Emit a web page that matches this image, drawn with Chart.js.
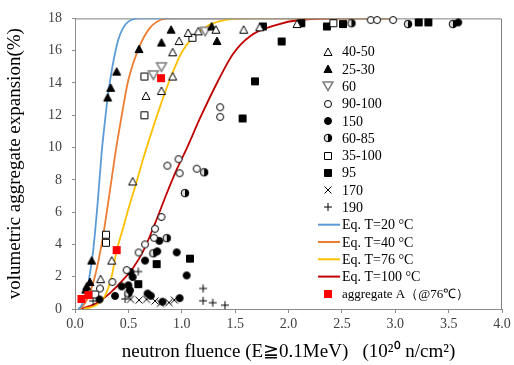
<!DOCTYPE html>
<html lang="en">
<head>
<meta charset="UTF-8">
<title>Volumetric aggregate expansion</title>
<script src="https://cdn.jsdelivr.net/npm/chart.js"></script>
<style>
  body { margin: 0; background: #fff; }
  canvas { display: block; }
</style>
</head>
<body>
<canvas id="myChart" width="514" height="365"></canvas>
<script>
// measured points [fluence (10^20 n/cm2), expansion (%)], one array per temperature group
const s4050 = [[0.24,1.85],[0.344,3.0],[0.54,7.9],[0.665,13.2],[0.81,13.5],[0.915,14.4],[0.915,15.9],[0.975,16.6],[1.06,17.1],[1.155,17.2],[1.32,17.3],[1.58,17.3],[1.73,17.45],[2.08,17.65]];
const s2530 = [[0.1,1.2],[0.11,1.4],[0.14,1.67],[0.156,3.0],[0.306,13.1],[0.334,13.7],[0.39,14.7],[0.60,16.1],[0.81,16.5],[0.90,17.3],[1.28,17.5],[1.33,16.6]];
const s60 = [[0.734,14.5],[0.81,15.0],[1.22,17.2]];
const s90100 = [[0.234,1.27],[0.35,1.67],[0.484,2.41],[0.596,3.5],[0.656,4.0],[0.74,4.41],[0.75,4.97],[0.81,5.7],[0.865,8.88],[0.97,9.28],[0.98,8.41],[1.14,8.69],[1.36,12.5],[1.36,11.9],[2.77,17.9],[2.83,17.9],[2.98,17.9]];
const s150 = [[0.23,0.59],[0.375,0.81],[0.437,1.4],[0.5,1.47],[0.515,1.16],[0.52,2.29],[0.54,1.98],[0.656,3.0],[0.68,0.96],[0.71,0.82],[0.77,3.57],[0.79,4.22],[0.82,0.45],[0.953,3.51],[0.98,0.67],[1.046,2.08],[3.59,17.75]];
const s6085 = [[0.5,0.96],[0.734,3.45],[0.86,4.39],[1.03,7.18],[1.21,8.47],[2.59,17.7],[3.12,17.65],[3.54,17.65]];
const s35100 = [[0.19,0.9],[0.29,4.1],[0.29,4.6],[0.65,12.0],[0.65,14.4],[1.1,16.8],[2.42,17.7]];
const s95 = [[0.593,1.54],[0.765,2.78],[1.077,3.12],[1.57,11.8],[1.686,14.1],[1.76,17.5],[1.936,16.57],[2.12,17.7],[2.36,17.5],[2.51,17.65],[3.22,17.75],[3.31,17.75]];
const s170 = [[0.52,0.6],[0.6,0.55],[0.67,0.6],[0.75,0.5],[0.8,0.35],[0.88,0.4],[0.93,0.55]];
const s190 = [[0.17,0.5],[0.47,0.62],[0.593,2.32],[1.2,1.27],[1.2,0.51],[1.29,0.39],[1.405,0.24]];
const aggA = [[0.06,0.62],[0.125,0.86],[0.39,3.65],[0.806,14.3]];

// equation curves
const eq20 = [[0.03,0],[0.06,0.2],[0.094,0.75],[0.13,1.8],[0.17,3.6],[0.21,6.4],[0.25,9.7],[0.28,11.6],[0.306,13.1],[0.35,15.0],[0.406,16.7],[0.45,17.4],[0.5,17.8],[0.6,18],[3.0,18]];
const eq40 = [[0.05,0],[0.11,0.55],[0.17,1.6],[0.22,3.0],[0.265,4.6],[0.32,7.0],[0.375,9.5],[0.43,11.7],[0.5,14.2],[0.593,16.1],[0.7,17.4],[0.8,17.9],[0.9,18],[3.0,18]];
const eq76 = [[0.08,0],[0.2,0.25],[0.28,0.8],[0.343,2.0],[0.39,3.6],[0.45,5.0],[0.5,6.2],[0.578,7.9],[0.625,9.0],[0.7,10.6],[0.8,12.6],[0.9,14.4],[1.0,15.9],[1.1,16.8],[1.26,17.6],[1.4,17.9],[1.6,18],[3.0,18]];
const eq100 = [[0.05,0],[0.2,0.35],[0.33,1.0],[0.45,1.8],[0.55,2.6],[0.64,3.6],[0.75,5.3],[0.85,7.0],[0.95,8.6],[1.05,10.0],[1.17,11.8],[1.33,14.0],[1.48,15.8],[1.64,16.9],[1.89,17.6],[2.1,17.9],[2.5,18],[3.0,18]];

const seriesNames = ['40-50','25-30','60','90-100','150','60-85','35-100','95','170','190'];
const curveNames = ['Eq. T=20 °C','Eq. T=40 °C','Eq. T=76 °C','Eq. T=100 °C'];
const aggName = 'aggregate A（@76℃）';
const xTickValues = [0,0.5,1,1.5,2,2.5,3,3.5,4];
const yTickValues = [0,2,4,6,8,10,12,14,16,18];
const xTitle = 'neutron fluence (E≧0.1MeV)   (10²⁰ n/cm²)';
const yTitle = 'volumetric aggregate expansion(%)';

// small canvases used as point markers (and in the legend)
function marker(kind, fill, stroke, lw) {
  const c = document.createElement('canvas');
  c.width = 14; c.height = 14;
  const g = c.getContext('2d');
  const m = 7;
  g.lineWidth = lw || 1;
  g.strokeStyle = stroke || '#000';
  g.fillStyle = fill || '#fff';
  g.beginPath();
  if (kind === 'tri') {
    g.moveTo(m, m - 4); g.lineTo(m + 4, m + 3.5); g.lineTo(m - 4, m + 3.5); g.closePath();
    g.fill(); g.stroke();
  } else if (kind === 'triDown') {
    g.moveTo(m - 5, m - 4); g.lineTo(m + 5, m - 4); g.lineTo(m, m + 4.5); g.closePath();
    g.fill(); g.stroke();
  } else if (kind === 'circle') {
    g.arc(m, m, 3.5, 0, Math.PI * 2);
    g.fill(); g.stroke();
  } else if (kind === 'half') {
    g.arc(m, m, 3.8, 0, Math.PI * 2);
    g.fillStyle = '#ddd'; g.fill();
    g.beginPath(); g.arc(m, m, 3.8, -Math.PI / 2, Math.PI / 2);
    g.fillStyle = '#000'; g.fill();
    g.beginPath(); g.arc(m, m, 3.8, 0, Math.PI * 2); g.stroke();
  } else if (kind === 'square') {
    g.rect(m - 3.5, m - 3.5, 7, 7);
    g.fill(); g.stroke();
  } else if (kind === 'bigsquare') {
    g.rect(m - 4, m - 4, 8, 8);
    g.fill();
  } else if (kind === 'x') {
    g.moveTo(m - 3.5, m - 3.5); g.lineTo(m + 3.5, m + 3.5);
    g.moveTo(m + 3.5, m - 3.5); g.lineTo(m - 3.5, m + 3.5);
    g.stroke();
  } else if (kind === 'plus') {
    g.moveTo(m - 4, m); g.lineTo(m + 4, m);
    g.moveTo(m, m - 4); g.lineTo(m, m + 4);
    g.stroke();
  }
  return c;
}

const markers = [
  marker('tri', '#fff', '#000'),
  marker('tri', '#000', '#000'),
  marker('triDown', '#fff', '#7f7f7f', 1.5),
  marker('circle', '#fff', '#000'),
  marker('circle', '#000', '#000'),
  marker('half'),
  marker('square', '#fff', '#000'),
  marker('square', '#000', '#000'),
  marker('x', null, '#000'),
  marker('plus', null, '#000')
];
const aggMarker = marker('bigsquare', '#ff0000', '#ff0000');
const curveColors = ['#5b9bd5', '#ed7d31', '#ffc000', '#c00000'];

const pts = a => a.map(p => ({ x: p[0], y: p[1] }));
const seriesData = [s4050, s2530, s60, s90100, s150, s6085, s35100, s95, s170, s190];
const curveData = [eq20, eq40, eq76, eq100];

const datasets = [];
seriesData.forEach((d, i) => {
  datasets.push({ label: seriesNames[i], data: pts(d), pointStyle: markers[i], pointRadius: 5, clip: false, order: 1 });
});
curveData.forEach((d, i) => {
  datasets.push({
    label: curveNames[i], data: pts(d), showLine: true, pointRadius: 0,
    borderColor: curveColors[i], borderWidth: 1.8, cubicInterpolationMode: 'monotone', order: 5
  });
});
datasets.push({ label: aggName, data: pts(aggA), pointStyle: aggMarker, pointRadius: 5, clip: false, order: 0 });

const framePlugin = {
  id: 'frame',
  beforeDatasetsDraw(chart) {
    const { ctx, chartArea: a } = chart;
    ctx.save();
    ctx.strokeStyle = '#7f7f7f';
    ctx.lineWidth = 1;
    ctx.beginPath();
    ctx.moveTo(a.left, a.top + 0.5);
    ctx.lineTo(a.right - 0.5, a.top + 0.5);
    ctx.lineTo(a.right - 0.5, a.bottom);
    ctx.stroke();
    ctx.restore();
  }
};

const legendPlugin = {
  id: 'sideLegend',
  afterDraw(chart) {
    const ctx = chart.ctx;
    ctx.save();
    ctx.font = '14px "Liberation Serif"';
    ctx.fillStyle = '#000';
    ctx.textBaseline = 'middle';
    let y = 51.7;
    const step = 17.3;
    seriesNames.forEach((name, i) => {
      ctx.drawImage(markers[i], 328 - 7, Math.round(y) - 7);
      ctx.fillText(name, 342, y + 1);
      y += step;
    });
    curveNames.forEach((name, i) => {
      ctx.strokeStyle = curveColors[i];
      ctx.lineWidth = 2;
      ctx.beginPath();
      ctx.moveTo(318, y); ctx.lineTo(340, y);
      ctx.stroke();
      ctx.fillText(name, 342, y + 1);
      y += step;
    });
    ctx.drawImage(aggMarker, 328 - 7, Math.round(y) - 7);
    ctx.font = '13px "Liberation Serif"';
    ctx.fillText(aggName, 342, y + 1);
    ctx.restore();
  }
};

const tickFont = { family: 'Liberation Serif', size: 14 };
const axisGray = '#8c8c8c';

new Chart(document.getElementById('myChart'), {
  type: 'scatter',
  data: { datasets: datasets },
  options: {
    responsive: false,
    animation: false,
    devicePixelRatio: 1,
    layout: { padding: { top: 15, right: 12, left: 0, bottom: 0 } },
    plugins: { legend: { display: false }, tooltip: { enabled: false } },
    scales: {
      x: {
        type: 'linear', min: 0, max: 4,
        afterBuildTicks: s => { s.ticks = xTickValues.map(v => ({ value: v })); },
        afterFit: s => { s.height = 56; },
        ticks: { callback: v => Number(v).toFixed(1), font: tickFont, color: '#404040', padding: 3, maxRotation: 0, autoSkip: false },
        grid: { drawOnChartArea: false, tickLength: 4, color: axisGray },
        border: { color: axisGray },
        title: { display: true, text: xTitle, font: { family: 'Liberation Serif', size: 19 }, color: '#000', padding: { top: 0, bottom: 2 } }
      },
      y: {
        type: 'linear', min: 0, max: 18,
        afterBuildTicks: s => { s.ticks = yTickValues.map(v => ({ value: v })); },
        afterFit: s => { s.width = 75; },
        ticks: { callback: v => String(v), font: tickFont, color: '#404040', padding: 10, autoSkip: false },
        grid: { drawOnChartArea: false, tickLength: 3, color: axisGray },
        border: { color: axisGray },
        title: { display: true, text: yTitle, font: { family: 'Liberation Serif', size: 19 }, color: '#000', padding: { top: 4, bottom: 0 } }
      }
    }
  },
  plugins: [framePlugin, legendPlugin]
});
</script>
</body>
</html>
